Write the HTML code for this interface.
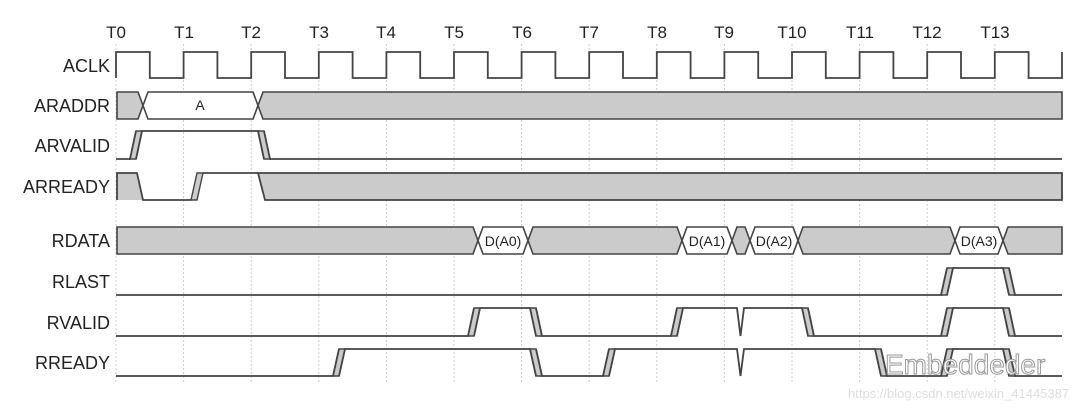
<!DOCTYPE html>
<html><head><meta charset="utf-8"><style>
html,body{margin:0;padding:0;background:#fff;width:1080px;height:409px;overflow:hidden}
svg{display:block}
text{font-family:"Liberation Sans",Arial,sans-serif}
</style></head><body>
<svg id="s" width="1080" height="409" viewBox="0 0 1080 409" xmlns="http://www.w3.org/2000/svg">
<g id="grid"></g>
<g id="wave"></g>
<g font-size="18" fill="#222" text-anchor="end">
<text x="110" y="72">ACLK</text>
<text x="110" y="112">ARADDR</text>
<text x="110" y="152">ARVALID</text>
<text x="110" y="193">ARREADY</text>
<text x="110" y="247">RDATA</text>
<text x="110" y="288">RLAST</text>
<text x="110" y="329">RVALID</text>
<text x="110" y="369">RREADY</text>
</g>
<g font-size="17" fill="#222" text-anchor="middle">
<text x="116" y="38">T0</text><text x="184" y="38">T1</text><text x="251" y="38">T2</text><text x="319" y="38">T3</text>
<text x="386" y="38">T4</text><text x="454" y="38">T5</text><text x="522" y="38">T6</text><text x="589" y="38">T7</text>
<text x="657" y="38">T8</text><text x="724" y="38">T9</text><text x="792" y="38">T10</text><text x="860" y="38">T11</text>
<text x="927" y="38">T12</text><text x="995" y="38">T13</text>
</g>
<g font-size="14" fill="#222" text-anchor="middle">
<text x="200" y="110">A</text>
<text x="503" y="246">D(A0)</text>
<text x="707" y="246">D(A1)</text>
<text x="774" y="246">D(A2)</text>
<text x="979" y="246">D(A3)</text>
</g>
<g id="wm">
<text x="885" y="374" font-size="28" fill="#fff" stroke="#999" stroke-width="1">Embeddeder</text>
<text x="848" y="398" font-size="13" fill="#ddd">https://blog.csdn.net/weixin_41445387</text>
</g>
</svg>
<script>
var NS="http://www.w3.org/2000/svg";
function el(g,t,a){var e=document.createElementNS(NS,t);for(var k in a)e.setAttribute(k,a[k]);document.getElementById(g).appendChild(e);return e;}
var T0=116,P=67.6,E=1062,G="#cbcbcb",L="#444";
for(var i=0;i<14;i++){var x=T0+i*P;el("grid","line",{x1:x,y1:44,x2:x,y2:383,stroke:"#ccc","stroke-width":1,"stroke-dasharray":"2,2"});}
var d="M"+T0+" 78 L"+T0+" 52";var x=T0;while(x<E-1){var h=x+P/2;d+=" L"+h+" 52 L"+h+" 78";var n=Math.min(x+P,E);d+=" L"+n+" 78 L"+n+" 52";x+=P;}
el("wave","path",{d:d,fill:"none",stroke:L,"stroke-width":1.8});
function bus(t,b,segs){var m=(t+b)/2,s=5;
 segs.forEach(function(g){var a=g[0],c=g[1];
  var pts=(a<=T0+1)?[[a,t]]:[[a+s,t]];
  var ptsB=(a<=T0+1)?[[a,b]]:[[a+s,b],[a,m]];
  var r=(c>=E-1)?[[c,t],[c,b]]:[[c-s,t],[c,m],[c-s,b]];
  var all=pts.concat(r).concat(ptsB);
  el("wave","polygon",{points:all.map(function(p){return p.join(",")}).join(" "),fill:g[2],stroke:L,"stroke-width":1.6});
 });}
bus(92,119,[[117,143,G],[143,258,"#fff"],[258,E,G]]);
bus(227,254,[[117,478,G],[478,528,"#fff"],[528,682,G],[682,732,"#fff"],[732,750,G],[750,798,"#fff"],[798,955,G],[955,1003,"#fff"],[1003,E,G]]);
function sig(t,b,start,ev){var w=6,sep=6,y=start?t:b,d="M"+T0+" "+y;
 ev.forEach(function(e){var x=e[0];
  if(e[1]=="r"){d+=" L"+x+" "+b+" L"+(x+w)+" "+t;
   el("wave","polygon",{points:x+","+b+" "+(x+w)+","+t+" "+(x+w+sep)+","+t+" "+(x+sep)+","+b,fill:G,stroke:L,"stroke-width":1.4});
   d+=" M"+(x+sep)+" "+b+" L"+(x+w+sep)+" "+t;y=t;}
  else if(e[1]=="f"){d+=" L"+x+" "+t+" L"+(x+w)+" "+b;
   el("wave","polygon",{points:x+","+t+" "+(x+w)+","+b+" "+(x+w+sep)+","+b+" "+(x+sep)+","+t,fill:G,stroke:L,"stroke-width":1.4});
   d+=" M"+(x+sep)+" "+t+" L"+(x+w+sep)+" "+b;y=b;}
  else {d+=" L"+x+" "+t+" L"+(x+3.5)+" "+b+" L"+(x+7)+" "+t;}
 });
 d+=" L"+E+" "+y;
 el("wave","path",{d:d,fill:"none",stroke:L,"stroke-width":1.8});}
sig(131,159,0,[[130,"r"],[258,"f"]]);
el("wave","polygon",{points:"117,173 137,173 143,200 117,200",fill:G,stroke:"none"});
el("wave","path",{d:"M117 200 L117 173 L137 173 L143 200 L191 200",fill:"none",stroke:L,"stroke-width":1.8});
el("wave","polygon",{points:"191,200 197,173 203,173 197,200",fill:G,stroke:L,"stroke-width":1.4});
el("wave","path",{d:"M203 173 L258 173",fill:"none",stroke:L,"stroke-width":1.8});
el("wave","polygon",{points:"258,173 "+E+",173 "+E+",200 265,200",fill:G,stroke:L,"stroke-width":1.8});
sig(268,295,0,[[941,"r"],[1003,"f"]]);
sig(308,336,0,[[468,"r"],[530,"f"],[671,"r"],[737,"s"],[802,"f"],[941,"r"],[1003,"f"]]);
sig(349,376,0,[[333,"r"],[530,"f"],[603,"r"],[737,"s"],[875,"f"],[941,"r"],[1003,"f"]]);
</script>
</body></html>
